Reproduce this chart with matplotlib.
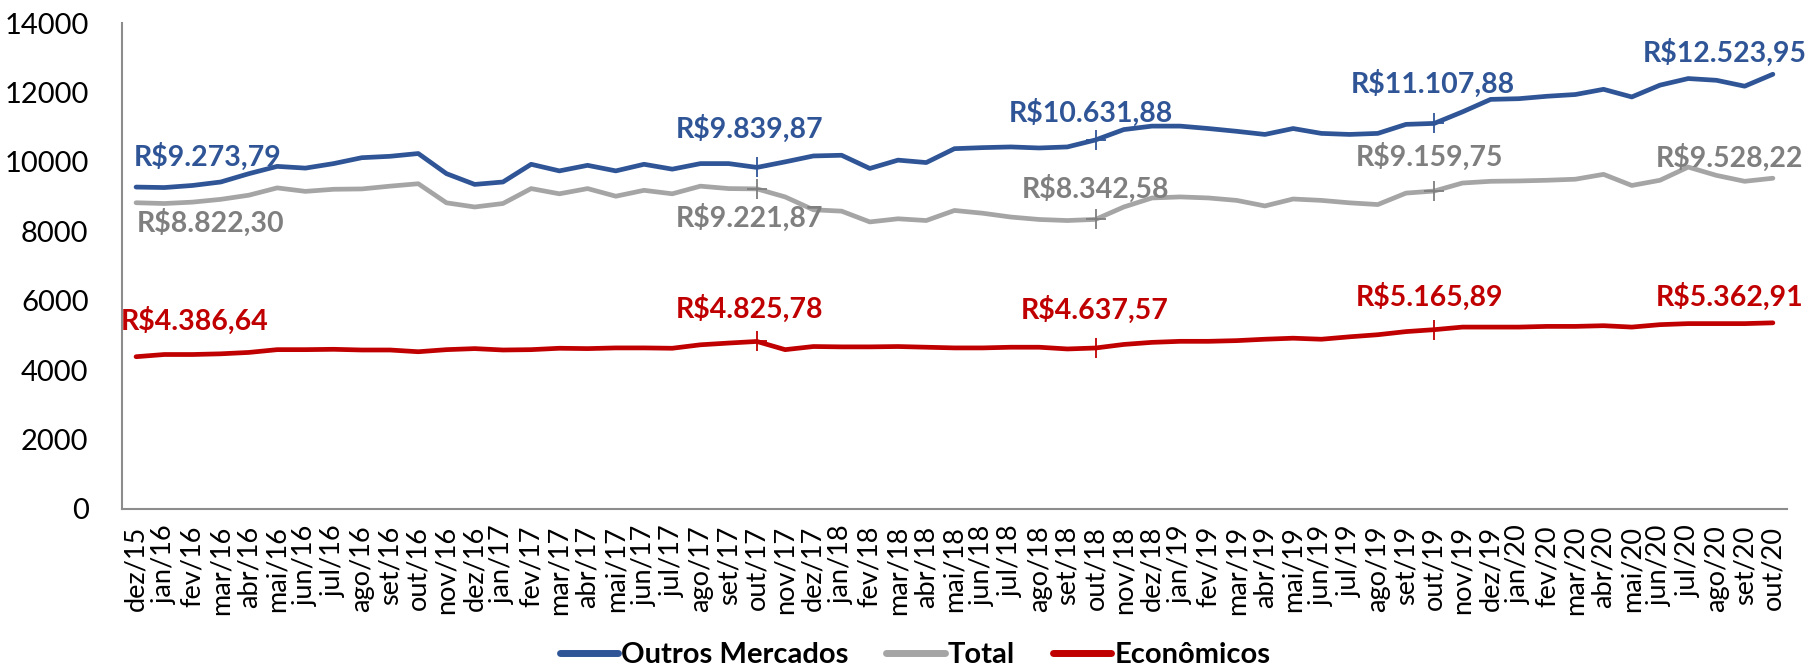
import matplotlib
matplotlib.use("Agg")
import matplotlib.pyplot as plt

plt.rcParams['font.family'] = ['Lato', 'DejaVu Sans']

# monthly values, dez/15 .. out/20
meses = ['dez/15',
         'jan/16', 'fev/16', 'mar/16', 'abr/16', 'mai/16', 'jun/16', 'jul/16', 'ago/16', 'set/16', 'out/16', 'nov/16', 'dez/16',
         'jan/17', 'fev/17', 'mar/17', 'abr/17', 'mai/17', 'jun/17', 'jul/17', 'ago/17', 'set/17', 'out/17', 'nov/17', 'dez/17',
         'jan/18', 'fev/18', 'mar/18', 'abr/18', 'mai/18', 'jun/18', 'jul/18', 'ago/18', 'set/18', 'out/18', 'nov/18', 'dez/18',
         'jan/19', 'fev/19', 'mar/19', 'abr/19', 'mai/19', 'jun/19', 'jul/19', 'ago/19', 'set/19', 'out/19', 'nov/19', 'dez/19',
         'jan/20', 'fev/20', 'mar/20', 'abr/20', 'mai/20', 'jun/20', 'jul/20', 'ago/20', 'set/20', 'out/20']

outros_mercados = [9273.79, 9260, 9320, 9420, 9660, 9870, 9820, 9950, 10120, 10160, 10240, 9660, 9350,
                   9420, 9930, 9740, 9900, 9740, 9930, 9790, 9950, 9950, 9839.87, 10000, 10170,
                   10190, 9810, 10050, 9980, 10380, 10410, 10430, 10400, 10430, 10631.88, 10930, 11030,
                   11030, 10960, 10880, 10790, 10960, 10820, 10790, 10820, 11080, 11107.88, 11440, 11800,
                   11820, 11890, 11940, 12090, 11870, 12210, 12400, 12350, 12180, 12523.95]

total = [8822.30, 8800, 8840, 8920, 9040, 9250, 9150, 9210, 9220, 9300, 9370, 8820, 8700,
         8800, 9230, 9080, 9230, 9010, 9180, 9080, 9300, 9230, 9221.87, 8990, 8620,
         8580, 8270, 8360, 8310, 8600, 8520, 8410, 8340, 8310, 8342.58, 8700, 8960,
         8990, 8960, 8890, 8730, 8930, 8890, 8820, 8770, 9100, 9159.75, 9390, 9440,
         9450, 9470, 9500, 9640, 9320, 9470, 9850, 9610, 9440, 9528.22]

economicos = [4386.64, 4450, 4450, 4470, 4510, 4590, 4590, 4600, 4580, 4580, 4530, 4590, 4620,
              4580, 4590, 4630, 4620, 4640, 4640, 4630, 4730, 4780, 4825.78, 4590, 4680,
              4670, 4670, 4680, 4660, 4640, 4640, 4660, 4660, 4610, 4637.57, 4740, 4800,
              4830, 4830, 4850, 4890, 4920, 4890, 4960, 5020, 5110, 5165.89, 5240, 5240,
              5240, 5260, 5260, 5280, 5240, 5310, 5340, 5340, 5340, 5362.91]

# points that carry a value label
rotulados = [0, 22, 34, 46, 58]
marcados = [22, 34, 46]


def brl(v):
    s = f"{v:,.2f}".replace(",", "X").replace(".", ",").replace("X", ".")
    return "R$" + s


fig = plt.figure(figsize=(18.12, 6.69), dpi=100)
ax = fig.add_axes([0.0673, 0.2392, 0.9189, 0.7264])
x = list(range(len(meses)))

series = [
    ("Outros Mercados", outros_mercados, "#2F5597", "#2F5597",
     [(72, 30), (-7, 39), (-5, 27), (-1, 40), (-48, 21)]),
    ("Total", total, "#A5A5A5", "#7F7F7F",
     [(75, -20), (-7, -29), (0, 31), (-5, 34), (-43, 20)]),
    ("Econômicos", economicos, "#C00000", "#C00000",
     [(59, 36), (-7, 33), (-1, 38), (-5, 33), (-43, 26)]),
]

for nome, vals, cor, cor_txt, offs in series:
    ax.plot(x, vals, color=cor, lw=3.4, solid_joinstyle='round', solid_capstyle='round',
            label=nome, marker='+', markevery=marcados, markersize=14, mew=1.3,
            markeredgecolor=cor_txt)
    for i, (dx, dy) in zip(rotulados, offs):
        ax.annotate(brl(vals[i]), xy=(i, vals[i]), xytext=(dx, dy), textcoords='offset pixels',
                    ha='center', va='center', fontsize=20.5, fontweight='bold', color=cor_txt)

ax.set_xlim(-0.5, len(meses) - 0.5)
ax.set_ylim(0, 14000)
ax.set_yticks(range(0, 14001, 2000))
ax.set_xticks(x)
ax.set_xticklabels(meses, rotation=90, fontsize=19.5)
ax.tick_params(axis='y', length=0, pad=24, labelsize=21)
ax.tick_params(axis='x', length=0, pad=12)

for s in ['top', 'right']:
    ax.spines[s].set_visible(False)
for s in ['left', 'bottom']:
    ax.spines[s].set_color('#8C8C8C')
    ax.spines[s].set_linewidth(1.5)

leg = fig.legend(loc='center', bbox_to_anchor=(0.505, 0.021), ncol=3, frameon=False,
                 handlelength=2.0, handletextpad=0.1, columnspacing=1.3,
                 prop={'weight': 'bold', 'size': 21})
for h in leg.get_lines():
    h.set_linewidth(5)
    h.set_marker('')

fig.savefig("out.png", dpi=100)
